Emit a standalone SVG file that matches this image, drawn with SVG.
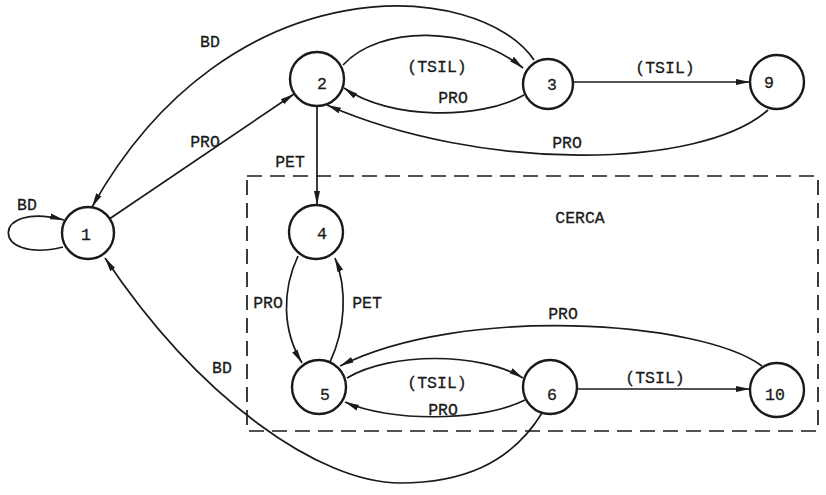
<svg xmlns="http://www.w3.org/2000/svg" width="826" height="495" viewBox="0 0 826 495">
<defs>
<marker id="arr" markerWidth="15" markerHeight="8" refX="14" refY="4" orient="auto" markerUnits="userSpaceOnUse">
<path d="M0,1 L14,4 L0,7 Z" fill="#1a1a1a"/>
</marker>
</defs>
<style>
.node circle{fill:#fff;stroke:#1a1a1a;stroke-width:2.4}
.node text,.lbl{font-family:"Liberation Mono","DejaVu Sans Mono",monospace;font-size:16.5px;fill:#1a1a1a;stroke:#1a1a1a;stroke-width:0.3;text-anchor:middle;dominant-baseline:central}
.edge{fill:none;stroke:#1a1a1a;stroke-width:1.7;marker-end:url(#arr)}
.box{fill:none;stroke:#1a1a1a;stroke-width:1.7;stroke-dasharray:15 8}
</style>
<rect width="826" height="495" fill="#fff"/>
<rect class="box" x="247" y="176" width="571" height="255"/>
<text class="lbl" x="580" y="218">CERCA</text>
<g id="connectors">
<path class="edge" d="M63 247 C-10 265,-10 200,64 220"/>
<path class="edge" d="M534 60 C480 -20,230 -40,92 207"/>
<path class="edge" d="M110 218.5 L294 94"/>
<path class="edge" d="M343 65 C380 25,470 25,523 68"/>
<path class="edge" d="M524 95 C480 120,390 120,344 88"/>
<path class="edge" d="M573 82 L750 82"/>
<path class="edge" d="M768 110 C700 170,480 172,327 105"/>
<path class="edge" d="M317 107 L317 205"/>
<path class="edge" d="M298 256 C282 290,282 330,302 363"/>
<path class="edge" d="M330 362 C345 330,348 290,335 258"/>
<path class="edge" d="M762 366 C700 320,460 305,340 366"/>
<path class="edge" d="M347 378 C390 352,480 352,523 378"/>
<path class="edge" d="M525 400 C480 422,390 422,345 402"/>
<path class="edge" d="M578 389 L750 389"/>
<path class="edge" d="M542 413 C510 465,460 483,400 483 C320 483,200 400,105 258"/>
<text class="lbl" x="27" y="205">BD</text>
<text class="lbl" x="210" y="42">BD</text>
<text class="lbl" x="205" y="142">PRO</text>
<text class="lbl" x="437" y="67">(TSIL)</text>
<text class="lbl" x="453" y="98">PRO</text>
<text class="lbl" x="665" y="68">(TSIL)</text>
<text class="lbl" x="567" y="143">PRO</text>
<text class="lbl" x="290" y="162">PET</text>
<text class="lbl" x="268" y="303">PRO</text>
<text class="lbl" x="367" y="303">PET</text>
<text class="lbl" x="563" y="314">PRO</text>
<text class="lbl" x="437" y="383">(TSIL)</text>
<text class="lbl" x="443" y="410">PRO</text>
<text class="lbl" x="655" y="378">(TSIL)</text>
<text class="lbl" x="222" y="368">BD</text>
</g>
<g id="n1" class="node"><circle cx="88" cy="233" r="26"/><text x="86" y="235">1</text></g>
<g id="n2" class="node"><circle cx="317" cy="79" r="27"/><text x="322" y="84">2</text></g>
<g id="n3" class="node"><circle cx="548" cy="84" r="25"/><text x="552" y="85">3</text></g>
<g id="n9" class="node"><circle cx="777" cy="82" r="27"/><text x="769" y="83">9</text></g>
<g id="n4" class="node"><circle cx="316" cy="232" r="27"/><text x="322" y="234">4</text></g>
<g id="n5" class="node"><circle cx="319" cy="387" r="27"/><text x="325" y="395">5</text></g>
<g id="n6" class="node"><circle cx="550" cy="387" r="27"/><text x="552" y="395">6</text></g>
<g id="n10" class="node"><circle cx="777" cy="390" r="27"/><text x="775" y="395">10</text></g>
</svg>
